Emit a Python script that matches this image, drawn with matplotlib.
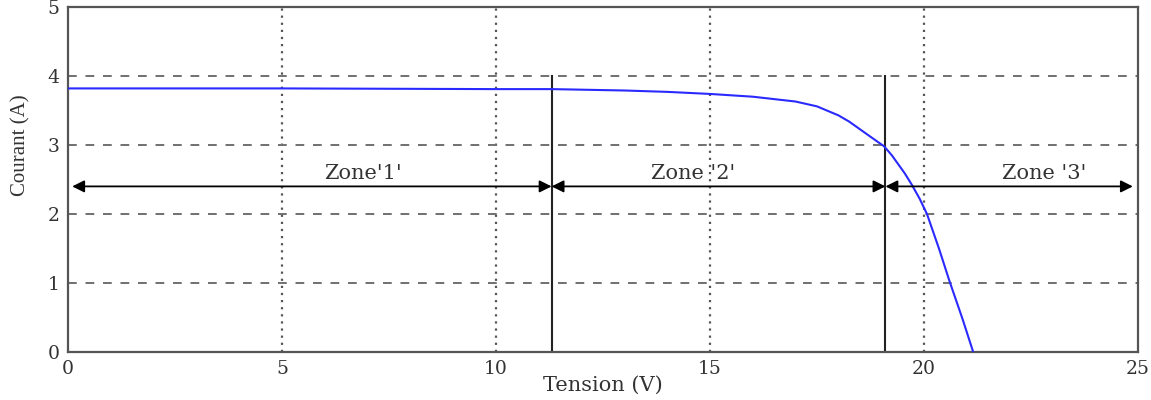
import numpy as np
import matplotlib.pyplot as plt

# Caractéristique I-V du panneau
tension = [0, 5, 10, 11.3, 13, 14, 15, 16, 17, 17.5, 18, 18.25, 18.5, 18.75,
           19.07, 19.25, 19.55, 19.72, 19.9, 20.07, 20.35, 20.6, 20.9, 21.15]
courant = [3.82, 3.82, 3.81, 3.81, 3.79, 3.77, 3.74, 3.70, 3.63, 3.56, 3.43,
           3.34, 3.23, 3.12, 2.98, 2.85, 2.59, 2.42, 2.22, 2.0, 1.5, 1.02,
           0.48, 0.0]

# Limites des zones
limites = [0, 11.3, 19.1, 25]
noms_zones = ["Zone'1'", "Zone '2'", "Zone '3'"]
pos_noms = [6.9, 14.6, 22.8]
y_fleches = 2.4

fig = plt.figure(figsize=(11.51, 4.0), dpi=100)
ax = fig.add_axes([0.059, 0.12, 0.9297, 0.8625])

# Grille : pointillés verticaux, tirets horizontaux
for x in [5, 10, 15, 20]:
    ax.axvline(x, color="#555555", lw=1.6, ls=(0, (1, 2.2)), zorder=1)
for y in [1, 2, 3, 4]:
    ax.axhline(y, color="#707070", lw=1.4, ls=(0, (4.5, 4.5)), zorder=1)

ax.plot(tension, courant, color="#2a2aff", lw=1.5, zorder=3)

# Séparations verticales entre zones
for x in limites[1:3]:
    ax.plot([x, x], [0, 4], color="#222222", lw=1.5, zorder=2)

# Flèches des zones
for (a, b), nom, xn in zip(zip(limites[:-1], limites[1:]), noms_zones, pos_noms):
    a_ = a + 0.1 if a == 0 else a
    b_ = b - 0.12 if b == 25 else b
    ax.annotate("", xy=(a_, y_fleches), xytext=(b_, y_fleches),
                arrowprops=dict(arrowstyle="<|-|>", color="black", lw=1.3,
                                mutation_scale=18, shrinkA=0, shrinkB=0),
                zorder=4)
    ax.text(xn, y_fleches + 0.05, nom, ha="center", va="bottom",
            fontsize=15, family="DejaVu Serif", color="#333333")

ax.set_xlim(0, 25)
ax.set_ylim(0, 5)
ax.set_xticks([0, 5, 10, 15, 20, 25])
ax.set_yticks([0, 1, 2, 3, 4, 5])
ax.tick_params(length=0, pad=6, labelsize=13.5, labelcolor="#333333")
for lab in ax.get_xticklabels() + ax.get_yticklabels():
    lab.set_family("DejaVu Serif")

ax.set_xlabel("Tension (V)", fontsize=15, family="DejaVu Serif",
              color="#333333", labelpad=-2)
ax.set_ylabel("Courant (A)", fontsize=15, family="Liberation Serif",
              color="#333333")
ax.yaxis.set_label_coords(-0.035, 0.6)

for s in ax.spines.values():
    s.set_color("#555555")
    s.set_linewidth(1.6)

fig.savefig("out.png", dpi=100)
